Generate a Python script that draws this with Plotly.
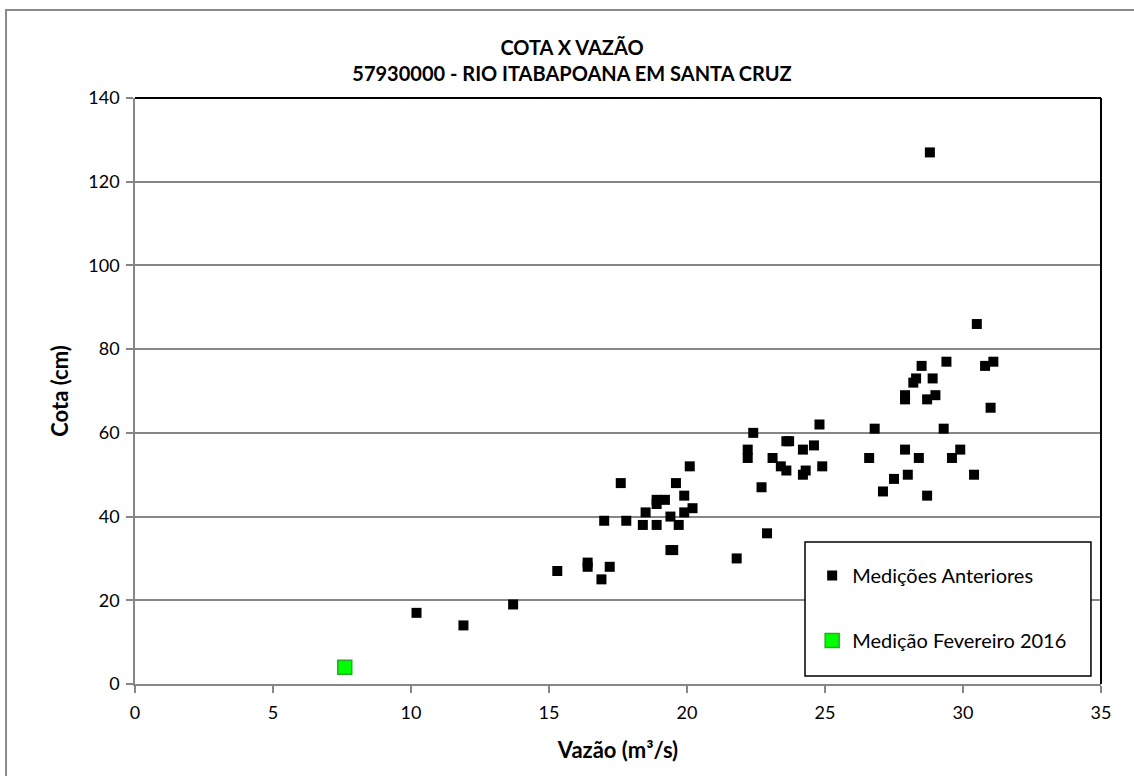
import plotly.graph_objects as go

# Medições anteriores (vazão m³/s, cota cm)
vazao_ant = [10.2, 11.9, 13.7, 15.3, 16.4, 16.4, 16.9, 17.0, 17.2, 17.6, 17.8, 18.4, 18.5,
             18.9, 18.9, 18.9, 19.2, 19.4, 19.4, 19.5, 19.6, 19.7, 19.9, 19.9, 20.1, 20.2,
             21.8, 22.2, 22.2, 22.4, 22.7, 22.9, 23.1, 23.4, 23.6, 23.7, 23.6, 24.2, 24.2,
             24.3, 24.6, 24.8, 24.9, 26.6, 26.8, 27.1, 27.5, 27.9, 27.9, 27.9, 28.0, 28.2,
             28.3, 28.4, 28.5, 28.7, 28.7, 28.8, 28.9, 29.0, 29.3, 29.4, 29.6, 29.9, 30.4,
             30.5, 30.8, 31.0, 31.1]
cota_ant = [17, 14, 19, 27, 29, 28, 25, 39, 28, 48, 39, 38, 41,
            38, 44, 43, 44, 40, 32, 32, 48, 38, 45, 41, 52, 42,
            30, 56, 54, 60, 47, 36, 54, 52, 58, 58, 51, 56, 50,
            51, 57, 62, 52, 54, 61, 46, 49, 56, 69, 68, 50, 72,
            73, 54, 76, 68, 45, 127, 73, 69, 61, 77, 54, 56, 50,
            86, 76, 66, 77]

# Medição Fevereiro 2016
vazao_fev = [7.6]
cota_fev = [4]

title_lines = ["COTA X VAZÃO", "57930000 - RIO ITABAPOANA EM SANTA CRUZ"]
x_title = "Vazão (m³/s)"
y_title = "Cota (cm)"

FONT = "Lato, Carlito, Calibri, sans-serif"
GRID = "#868686"

fig = go.Figure()
fig.add_trace(go.Scatter(
    x=vazao_ant, y=cota_ant, mode="markers", name="Medições Anteriores",
    legendgroup="a",
    marker=dict(symbol="square", size=10, color="black", line=dict(width=0)),
))
fig.add_trace(go.Scatter(
    x=vazao_fev, y=cota_fev, mode="markers", name="Medição Fevereiro 2016",
    legendgroup="b",
    marker=dict(symbol="square", size=14, color="#00ff00", line=dict(width=1.5, color="#22b022")),
))

fig.update_layout(
    width=1134, height=776,
    margin=dict(l=135, r=33, t=98, b=92, autoexpand=False),
    paper_bgcolor="white", plot_bgcolor="white",
    font=dict(family=FONT, size=18, color="black"),
    title=dict(
        text="<br>".join(title_lines),
        x=572 / 1134, xanchor="center", xref="container",
        y=1 - 55 / 776, yanchor="middle", yref="container",
        font=dict(family=FONT, size=20, color="black", weight="bold"),
    ),
    showlegend=True,
    legend=dict(
        x=0.701, xanchor="left", y=0.2184, yanchor="top",
        bgcolor="rgba(0,0,0,0)", borderwidth=0,
        traceorder="grouped", tracegroupgap=36,
        itemwidth=30,
        font=dict(family=FONT, size=20, color="black"),
    ),
    xaxis=dict(
        range=[0, 35], dtick=5, tick0=0,
        showgrid=False, zeroline=False,
        showline=True, linecolor=GRID, linewidth=1.5,
        ticks="outside", ticklen=7, tickcolor=GRID, tickwidth=1.5,
        ticklabelstandoff=5,
        tickfont=dict(family=FONT, size=18, color="black"),
        title=dict(text=x_title, standoff=20,
                   font=dict(family=FONT, size=22, color="black", weight="bold")),
    ),
    yaxis=dict(
        range=[0, 140], dtick=20, tick0=0,
        showgrid=True, gridcolor=GRID, gridwidth=1.5,
        zeroline=False,
        showline=True, linecolor=GRID, linewidth=1.5,
        ticks="outside", ticklen=7, tickcolor=GRID, tickwidth=1.5,
        ticklabelstandoff=3,
        tickfont=dict(family=FONT, size=18, color="black"),
        title=dict(text=y_title, standoff=14,
                   font=dict(family=FONT, size=22, color="black", weight="bold")),
    ),
    shapes=[
        # outer chart border
        dict(type="rect", xref="paper", yref="paper", x0=-0.1335, x1=1.1, y0=-0.2, y1=1.150,
             line=dict(color="#8a8a8a", width=2), fillcolor="rgba(0,0,0,0)", layer="below"),
        # plot frame top and right
        dict(type="line", xref="paper", yref="paper", x0=0, x1=1, y0=1, y1=1,
             line=dict(color="black", width=2)),
        dict(type="line", xref="paper", yref="paper", x0=1, x1=1, y0=0, y1=1,
             line=dict(color="black", width=2)),
        # legend box
        dict(type="rect", xref="paper", yref="paper", x0=0.6936, x1=0.9896, y0=0.01365, y1=0.2423,
             line=dict(color="black", width=1.5), fillcolor="white", layer="above"),
    ],
)

fig.write_html(
    "out.html",
    config={"displayModeBar": False},
    post_script="document.body.style.margin='0';document.documentElement.style.overflow='hidden';",
)
